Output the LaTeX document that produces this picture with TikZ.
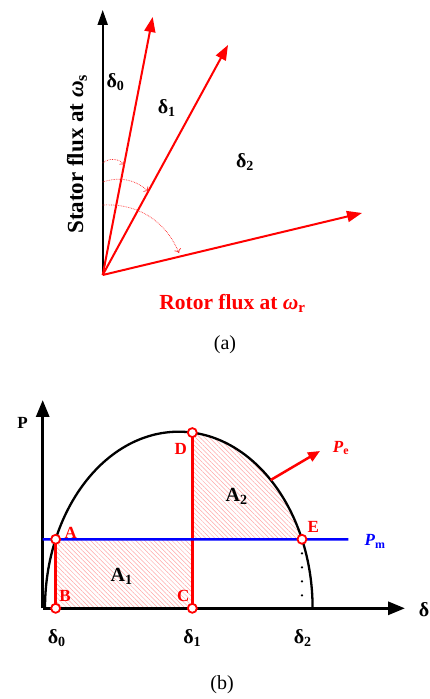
\documentclass[tikz,border=0pt]{standalone}
\usepackage{fontspec}
\setmainfont{Liberation Serif}
\usetikzlibrary{arrows.meta,positioning,patterns.meta}

\begin{document}
\begin{tikzpicture}[
  x=1pt, y=1pt,
  ax/.style={-{Triangle[length=15pt,width=10pt]}, line width=2pt},
  axb/.style={-{Triangle[length=17pt,width=13pt]}, line width=3pt},
  vec/.style={-{Triangle[length=15pt,width=11pt]}, red, line width=2pt},
  turn/.style={-{To[length=4pt,width=7pt]}, red!85, densely dotted, line width=0.7pt},
  hatch/.style={pattern={Lines[angle=-45,distance=3.2pt,line width=0.5pt]}, pattern color=red!35},
  redln/.style={red, line width=2.5pt},
  pt/.style={circle, draw=red, fill=white, line width=1.8pt, inner sep=0pt, minimum size=9pt},
  dlbl/.style={font=\fontsize{20}{23}\selectfont\bfseries},
  axlbl/.style={font=\fontsize{21.5}{25}\selectfont\bfseries},
  ptlbl/.style={red, font=\fontsize{17}{20}\selectfont\bfseries},
  captxt/.style={font=\fontsize{20}{23}\selectfont}
]
\useasboundingbox (0,0) rectangle (429,699);

% (a) flux vectors
\coordinate (O) at (102.7,424);
\coordinate (s) at (102.7,689);
\coordinate (r1) at (152.7,682);
\coordinate (r2) at (228,654);
\coordinate (r3) at (362,486);
\draw[ax] (O) -- (s);
\draw[vec] (O) -- (r1);
\draw[vec] (O) -- (r2);
\draw[vec] (O) -- (r3);
\coordinate (t0a) at (102.7,536);
\coordinate (t0b) at (124.5,534);
\coordinate (t1a) at (102.7,517);
\coordinate (t1b) at (148.5,507.5);
\coordinate (t2a) at (102.7,494);
\coordinate (t2b) at (179,446);
\draw[turn] (t0a) to[bend left=45] (t0b);
\draw[turn] (t1a) to[bend left=30] (t1b);
\draw[turn] (t2a) to[bend left=35] (t2b);
\node[dlbl] (d0) at (115.5,617) {δ\textsubscript{0}};
\node[dlbl] (d1) at (166.7,591) {δ\textsubscript{1}};
\node[dlbl] (d2) at (245,537) {δ\textsubscript{2}};
\node[axlbl, rotate=90, font=\fontsize{23}{26}\selectfont\bfseries] (stator) at (77,545) {Stator flux at \textit{ω}\textsubscript{s}};
\node[axlbl, red] (rotor) at (232.5,396) {Rotor flux at \textit{ω}\textsubscript{r}};
\node[captxt] (capa) at (225,354) {(a)};

% (b) equal area criterion
\coordinate (O2) at (42.7,90.7);
\coordinate (Ptip) at (42.7,299);
\coordinate (dtip) at (405,90.7);
\coordinate (ctr) at (178.8,90.7);
\coordinate (c0) at (45,90.7);
\coordinate (A) at ([shift={(157:133.8 and 176.6)}]ctr);
\coordinate (E) at ([shift={(23:133.8 and 176.6)}]ctr);
\coordinate (D) at ([shift={(84.2:133.8 and 176.6)}]ctr);
\coordinate (B) at (A |- ctr);
\coordinate (C) at (D |- ctr);
\coordinate (pe0) at ([shift={(46.6:133.8 and 176.6)}]ctr);
\coordinate (pe1) at (320,248);
\coordinate (pm0) at (O2 |- A);
\coordinate (pm1) at (348.3,159.7);

\path[hatch] (B) rectangle (C |- A);
\path[hatch] (C |- A) -- (D) arc[start angle=84.2, end angle=23, x radius=133.8, y radius=176.6] -- cycle;

\draw[axb] (O2) -- (Ptip);
\draw[axb] (O2) -- (dtip);
\draw[line width=2.3pt] (c0) arc[start angle=180, end angle=0, x radius=133.8, y radius=176.6];
\draw[line width=2.5pt, dash pattern=on 0pt off 14pt, line cap=round] (E) -- (E |- ctr);
\draw[redln] (A) -- (B);
\draw[redln] (D) -- (C);
\draw[blue, line width=2.5pt] (pm0) -- (pm1);
\draw[-{Triangle[length=12pt,width=10pt]}, red, line width=2.5pt] (pe0) -- (pe1);

\node[pt] (pA) at (A) {};
\node[pt] (pB) at (B) {};
\node[pt] (pC) at (C) {};
\node[pt] (pD) at (D) {};
\node[pt] (pE) at (E) {};

\node[ptlbl] (lA) at (70.7,166.3) {A};
\node[ptlbl] (lB) at (65,103) {B};
\node[ptlbl] (lC) at (183.3,103) {C};
\node[ptlbl] (lD) at (180.7,250) {D};
\node[ptlbl] (lE) at (313.3,172.3) {E};
\node[dlbl] (a1) at (121.7,122.3) {A\textsubscript{1}};
\node[dlbl] (a2) at (236.7,202.3) {A\textsubscript{2}};
\node[ptlbl] (lPe) at (341,251) {\textit{P}\textsubscript{e}};
\node[ptlbl, blue] (lPm) at (375,157.3) {\textit{P}\textsubscript{m}};
\node[font=\fontsize{17}{20}\selectfont\bfseries] (lP) at (22.5,276) {P};
\node[dlbl] (ldelta) at (424,89) {δ};
\node[dlbl] (x0) at (56.7,60.7) {δ\textsubscript{0}};
\node[dlbl] (x1) at (192.3,60.7) {δ\textsubscript{1}};
\node[dlbl] (x2) at (302.7,60.7) {δ\textsubscript{2}};
\node[captxt] (capb) at (222,14) {(b)};
\end{tikzpicture}
\end{document}
